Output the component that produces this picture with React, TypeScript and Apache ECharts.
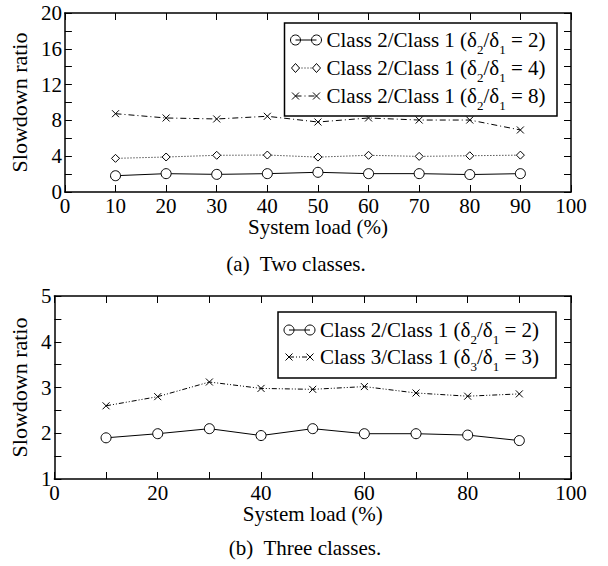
import React, { useEffect, useRef } from 'react';
import * as echarts from 'echarts';

// ---- data ----
const loads = [10, 20, 30, 40, 50, 60, 70, 80, 90];
const twoRatio2 = [1.82, 2.05, 1.97, 2.05, 2.2, 2.05, 2.05, 1.95, 2.05];
const twoRatio4 = [3.76, 3.91, 4.1, 4.13, 3.9, 4.1, 3.98, 4.05, 4.12];
const twoRatio8 = [8.75, 8.27, 8.16, 8.46, 7.82, 8.27, 8.04, 8.04, 6.93];
const threeRatio2 = [1.9, 1.99, 2.1, 1.95, 2.1, 1.99, 1.99, 1.96, 1.84];
const threeRatio3 = [2.6, 2.8, 3.12, 2.98, 2.96, 3.02, 2.88, 2.81, 2.86];

const topLegend = [
  { cls: '2', sub: '2', val: '2' },
  { cls: '2', sub: '2', val: '4' },
  { cls: '2', sub: '2', val: '8' },
];
const bottomLegend = [
  { cls: '2', sub: '2', val: '2' },
  { cls: '3', sub: '3', val: '3' },
];
const xName = 'System load (%)';
const yName = 'Slowdown ratio';
const captionA = '(a)\u00a0 Two classes.';
const captionB = '(b)\u00a0 Three classes.';

const FONT = "'Liberation Serif', 'Times New Roman', serif";
const BLACK = '#000';
const X_PATH = 'path://M0,0L10,10M10,0L0,10';

const pairs = (ys: number[]) => loads.map((x, i) => [x, ys[i]]);

const axisLine = { show: true, onZero: false, lineStyle: { color: BLACK, width: 1.5 } };
const axisTick = { show: true, inside: true, length: 7, lineStyle: { color: BLACK, width: 1 } };
const minorTick = { show: true, splitNumber: 2, length: 7, lineStyle: { color: BLACK, width: 1 } };
const labelStyle = { color: BLACK, fontFamily: FONT, fontSize: 21 };

type Sym = 'circle' | 'diamond' | 'x';

function legendSymbol(kind: Sym, cx: number, cy: number): any[] {
  if (kind === 'circle') {
    return [{ type: 'circle', shape: { cx, cy, r: 5 }, style: { fill: 'none', stroke: BLACK, lineWidth: 1 } }];
  }
  if (kind === 'diamond') {
    return [{
      type: 'polygon',
      shape: { points: [[cx, cy - 4.5], [cx + 4, cy], [cx, cy + 4.5], [cx - 4, cy]] },
      style: { fill: '#fff', stroke: BLACK, lineWidth: 1 },
    }];
  }
  return [
    { type: 'line', shape: { x1: cx - 3.5, y1: cy - 3.5, x2: cx + 3.5, y2: cy + 3.5 }, style: { stroke: BLACK, lineWidth: 1 } },
    { type: 'line', shape: { x1: cx + 3.5, y1: cy - 3.5, x2: cx - 3.5, y2: cy + 3.5 }, style: { stroke: BLACK, lineWidth: 1 } },
  ];
}

const rich = {
  t: { fontSize: 21, fontFamily: FONT, lineHeight: 32, fill: BLACK, color: BLACK },
  s: { fontSize: 13, fontFamily: FONT, lineHeight: 13, fill: BLACK, color: BLACK, verticalAlign: 'bottom' },
};

function legendGraphic(
  box: { x: number; y: number; w: number; h: number },
  rows: { cls: string; sub: string; val: string }[],
  rowYs: number[],
  syms: Sym[],
  dashes: (number[] | null)[],
): any[] {
  const out: any[] = [
    { type: 'rect', shape: { x: box.x, y: box.y, width: box.w, height: box.h }, style: { fill: '#fff', stroke: BLACK, lineWidth: 1.5 }, z: 10 },
  ];
  rows.forEach((r, i) => {
    const y = rowYs[i];
    const x1 = box.x + 11;
    const x2 = box.x + 32;
    out.push({ type: 'line', shape: { x1, y1: y, x2, y2: y }, style: { stroke: BLACK, lineWidth: 1, lineDash: dashes[i] || undefined }, z: 11 });
    legendSymbol(syms[i], x1, y).forEach((g) => out.push({ ...g, z: 12 }));
    legendSymbol(syms[i], x2, y).forEach((g) => out.push({ ...g, z: 12 }));
    out.push({
      type: 'text',
      x: box.x + 42,
      y,
      z: 12,
      style: {
        text: `{t|Class ${r.cls}/Class 1 (δ}{s|${r.sub}}{t|/δ}{s|1}{t| = ${r.val})}`,
        rich,
        verticalAlign: 'middle',
        align: 'left',
      },
    });
  });
  return out;
}

export default function App() {
  const ref = useRef<HTMLDivElement>(null);
  useEffect(() => {
    if (!ref.current) return;
    const chart = echarts.init(ref.current, undefined, { renderer: 'svg' });
    const grids = [
      { left: 59, top: 13, width: 512, height: 179 },
      { left: 49, top: 296, width: 522, height: 183 },
    ];
    const xBase = (grid: number, interval: number, minor: boolean, pos: 'bottom' | 'top', showLabel: boolean, gap: number, name?: string) => ({
      type: 'value',
      gridIndex: grid,
      position: pos,
      min: 0,
      max: 100,
      interval,
      axisLine,
      axisTick,
      minorTick: minor ? minorTick : { show: false },
      splitLine: { show: false },
      axisLabel: { show: showLabel, ...labelStyle, margin: 3 },
      name: name,
      nameLocation: 'middle',
      nameGap: gap,
      nameTextStyle: { color: BLACK, fontFamily: FONT, fontSize: 21 },
    });
    const yBase = (grid: number, min: number, max: number, interval: number, pos: 'left' | 'right', showLabel: boolean, gap: number, name?: string) => ({
      type: 'value',
      gridIndex: grid,
      position: pos,
      min,
      max,
      interval,
      axisLine,
      axisTick,
      minorTick,
      splitLine: { show: false },
      axisLabel: { show: showLabel, ...labelStyle, margin: 3 },
      name,
      nameLocation: 'middle',
      nameGap: gap,
      nameTextStyle: { color: BLACK, fontFamily: FONT, fontSize: 22 },
    });

    const lineSeries = (xi: number, yi: number, ys: number[], sym: Sym, dash: any) => ({
      type: 'line',
      xAxisIndex: xi,
      yAxisIndex: yi,
      data: pairs(ys),
      symbol: sym === 'circle' ? 'circle' : sym === 'diamond' ? 'diamond' : X_PATH,
      symbolSize: sym === 'circle' ? 10 : sym === 'diamond' ? 8 : 7,
      showSymbol: true,
      itemStyle: { color: sym === 'x' ? 'none' : '#fff', borderColor: BLACK, borderWidth: 1 },
      lineStyle: { color: BLACK, width: 1, type: dash },
      emphasis: { disabled: true },
      z: 3,
    });

    const graphic: any[] = [
      ...legendGraphic({ x: 284.5, y: 23, w: 272.5, h: 93 }, topLegend, [40, 68, 96], ['circle', 'diamond', 'x'], [null, [1, 2], [6, 3, 1, 3]]),
      ...legendGraphic({ x: 278, y: 312, w: 278, h: 66 }, bottomLegend, [330, 357], ['circle', 'x'], [null, [5, 2, 1, 2, 1, 2]]),
      { type: 'text', x: 296, y: 264, style: { text: captionA, fontSize: 21, fontFamily: FONT, fill: BLACK, align: 'center', verticalAlign: 'middle' } },
      { type: 'text', x: 305, y: 548, style: { text: captionB, fontSize: 21, fontFamily: FONT, fill: BLACK, align: 'center', verticalAlign: 'middle' } },
    ];

    chart.setOption({
      animation: false,
      backgroundColor: '#fff',
      grid: grids,
      xAxis: [
        xBase(0, 10, false, 'bottom', true, 24, xName),
        xBase(0, 10, false, 'top', false, 0),
        xBase(1, 20, true, 'bottom', true, 19, xName),
        xBase(1, 20, true, 'top', false, 0),
      ],
      yAxis: [
        yBase(0, 0, 20, 4, 'left', true, 34.5, yName),
        yBase(0, 0, 20, 4, 'right', false, 0),
        yBase(1, 1, 5, 1, 'left', true, 23.5, yName),
        yBase(1, 1, 5, 1, 'right', false, 0),
      ],
      series: [
        lineSeries(0, 0, twoRatio2, 'circle', 'solid'),
        lineSeries(0, 0, twoRatio4, 'diamond', [1, 2]),
        lineSeries(0, 0, twoRatio8, 'x', [6, 3, 1, 3]),
        lineSeries(2, 2, threeRatio2, 'circle', 'solid'),
        lineSeries(2, 2, threeRatio3, 'x', [5, 2, 1, 2, 1, 2]),
      ],
      graphic,
    });
    return () => chart.dispose();
  }, []);
  return <div ref={ref} style={{ position: 'fixed', left: 0, top: 0, width: 608, height: 566, background: '#fff' }} />;
}
